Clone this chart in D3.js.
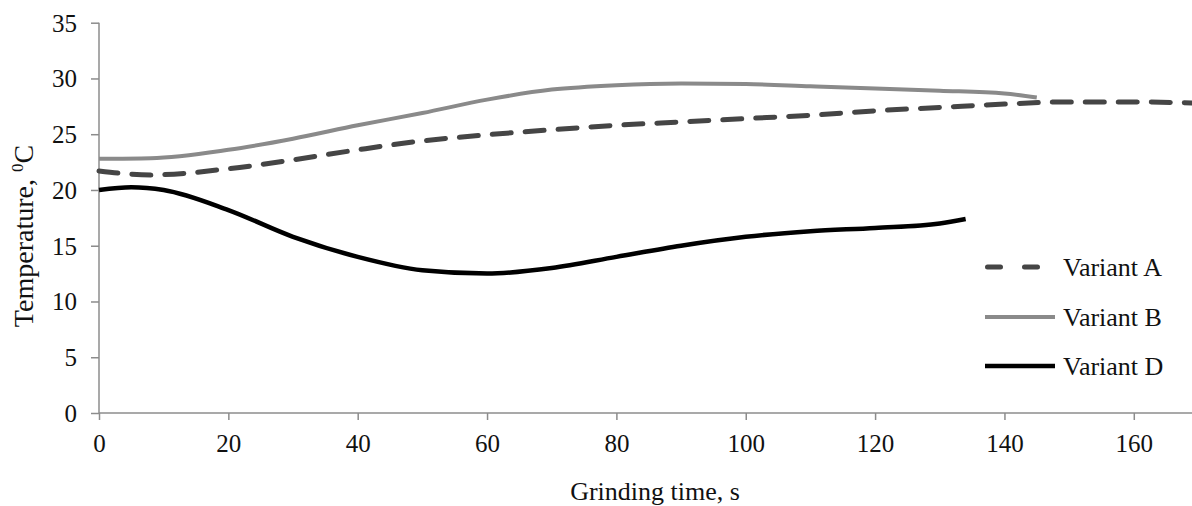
<!DOCTYPE html>
<html>
<head>
<meta charset="utf-8">
<script src="https://cdn.jsdelivr.net/npm/d3@7"></script>
<style>
  html, body { margin: 0; padding: 0; background: #fff; }
  svg { display: block; }
  svg text { font-family: "Liberation Serif", "Times New Roman", Tinos, "DejaVu Serif", serif !important; fill: #111; }
</style>
</head>
<body>
<div id="chart"></div>
<script>
// ---- data ----
const xTicks = [0, 20, 40, 60, 80, 100, 120, 140, 160];
const yTicks = [0, 5, 10, 15, 20, 25, 30, 35];

const timeA = [0, 8, 20, 30, 40, 50, 60, 70, 80, 90, 100, 110, 120, 130, 140, 150, 160, 169];
const tempA = [21.7, 21.35, 21.9, 22.7, 23.6, 24.4, 24.95, 25.4, 25.8, 26.1, 26.4, 26.7, 27.1, 27.4, 27.7, 27.9, 27.9, 27.8];

const timeB = [0, 8, 20, 30, 40, 50, 60, 70, 80, 90, 100, 110, 120, 130, 140, 145];
const tempB = [22.8, 22.85, 23.6, 24.6, 25.8, 26.9, 28.1, 29.0, 29.4, 29.55, 29.5, 29.3, 29.1, 28.9, 28.65, 28.3];

const timeD = [0, 5, 10, 20, 30, 40, 50, 60, 70, 80, 90, 100, 110, 120, 130, 134];
const tempD = [20.0, 20.25, 20.0, 18.2, 15.8, 14.0, 12.8, 12.5, 13.0, 14.0, 15.0, 15.8, 16.3, 16.6, 17.0, 17.4];

const seriesNames = ["Variant A", "Variant B", "Variant D"];

// ---- layout ----
const W = 1192, H = 506;
const FONT = '"Liberation Serif", "Times New Roman", serif';
const svg = d3.select("#chart").append("svg").attr("width", W).attr("height", H)
  .attr("font-family", FONT);

const x = d3.scaleLinear().domain([0, 169]).range([99, 1192]);
const y = d3.scaleLinear().domain([0, 35]).range([413, 22.7]);

const axisColor = "#8c8c8c";

const yAxis = svg.append("g").attr("transform", `translate(${x(0)},0)`)
  .call(d3.axisLeft(y).tickValues(yTicks).tickSize(8).tickPadding(14).tickFormat(d3.format("d")));
const xAxis = svg.append("g").attr("transform", `translate(0,${y(0)})`)
  .call(d3.axisBottom(x).tickValues(xTicks).tickSize(7).tickPadding(14).tickFormat(d3.format("d")));

[yAxis, xAxis].forEach(g => {
  g.attr("font-family", FONT);
  g.select(".domain").attr("stroke", axisColor).attr("stroke-width", 1.5);
  g.selectAll(".tick line").attr("stroke", axisColor).attr("stroke-width", 1.5);
  g.selectAll(".tick text").attr("font-size", 25).attr("fill", "#111");
});
yAxis.select(".domain").attr("d", `M0,${y(35)}V${y(0)}`);
xAxis.select(".domain").attr("d", `M${x(0)},0H${W}`);
yAxis.selectAll(".tick text").attr("dy", "0.34em");

// ---- lines ----
const line = d3.line().x(d => x(d[0])).y(d => y(d[1])).curve(d3.curveMonotoneX);
const zip = (a, b) => a.map((v, i) => [v, b[i]]);

const styles = [
  { data: zip(timeA, tempA), color: "#454545", width: 5, dash: "19,14" },
  { data: zip(timeB, tempB), color: "#8a8a8a", width: 4, dash: null },
  { data: zip(timeD, tempD), color: "#000000", width: 4.5, dash: null }
];

styles.forEach(s => {
  svg.append("path").datum(s.data)
    .attr("d", line)
    .attr("fill", "none")
    .attr("stroke", s.color)
    .attr("stroke-width", s.width)
    .attr("stroke-linecap", s.dash ? "round" : "butt")
    .attr("stroke-dasharray", s.dash);
});

// ---- legend ----
const legY = [267, 317, 366];
seriesNames.forEach((name, i) => {
  const s = styles[i];
  svg.append("line")
    .attr("x1", s.dash ? 987.5 : 985).attr("x2", s.dash ? 1040 : 1055)
    .attr("y1", legY[i]).attr("y2", legY[i])
    .attr("stroke", s.color).attr("stroke-width", s.width)
    .attr("stroke-linecap", s.dash ? "round" : "butt")
    .attr("stroke-dasharray", s.dash ? "13,24" : null);
  svg.append("text").attr("x", 1063).attr("y", legY[i]).attr("dy", "0.34em")
    .attr("font-size", 26).text(name);
});

// ---- axis titles ----
svg.append("text")
  .attr("x", 655).attr("y", 500)
  .attr("text-anchor", "middle")
  .attr("font-size", 26)
  .text("Grinding time, s");

const yt = svg.append("text")
  .attr("transform", "translate(33,236) rotate(-90)")
  .attr("text-anchor", "middle")
  .attr("font-size", 28);
yt.append("tspan").text("Temperature, ");
yt.append("tspan").attr("font-size", 17).attr("baseline-shift", "10").text("0");
yt.append("tspan").text("C");
</script>
</body>
</html>
